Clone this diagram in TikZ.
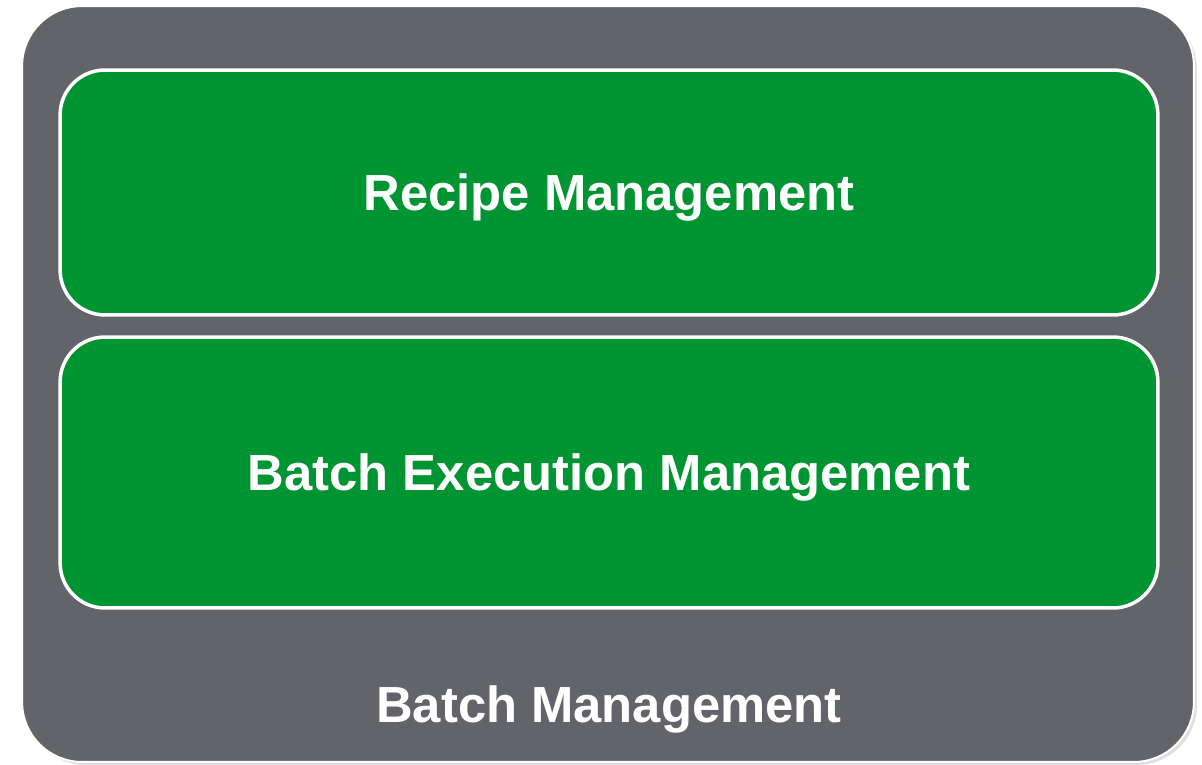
\documentclass[tikz,border=0pt]{standalone}
\usepackage{fontspec}
\setmainfont{Liberation Sans}
\usetikzlibrary{shadows}
\definecolor{bmgray}{RGB}{99,100,105}
\definecolor{bmgreen}{RGB}{0,149,50}
\tikzset{
    layerbox/.style={draw=white, line width=2pt, fill=bmgreen, rounded corners=0.9cm,
        minimum width=21.96cm, text=white, text depth=0pt,
        font=\bfseries\fontsize{28.9}{34}\selectfont},
    outerbox/.style={draw=white, line width=1.1pt, fill=bmgray, rounded corners=1.2cm,
        minimum width=23.44cm, minimum height=15.12cm,
        drop shadow={shadow xshift=0.06cm, shadow yshift=-0.06cm, opacity=0.25}},
    boxtitle/.style={text=white, text depth=0pt, font=\bfseries\fontsize{28.9}{34}\selectfont}
}
\begin{document}
\begin{tikzpicture}[x=0.02cm, y=-0.02cm]
    \useasboundingbox (0,0) rectangle (1202,764);

    % Outer box
    \node[outerbox] (batch) at (608,384) {};
    \node[boxtitle] (batchtitle) at (609,704) {Batch Management};

    % Two inner layers
    \node[layerbox, minimum height=4.9cm] (recipe) at (609,192.5) {Recipe Management};
    \node[layerbox, minimum height=5.42cm] (execution) at (609,472.5) {Batch Execution Management};
\end{tikzpicture}
\end{document}
